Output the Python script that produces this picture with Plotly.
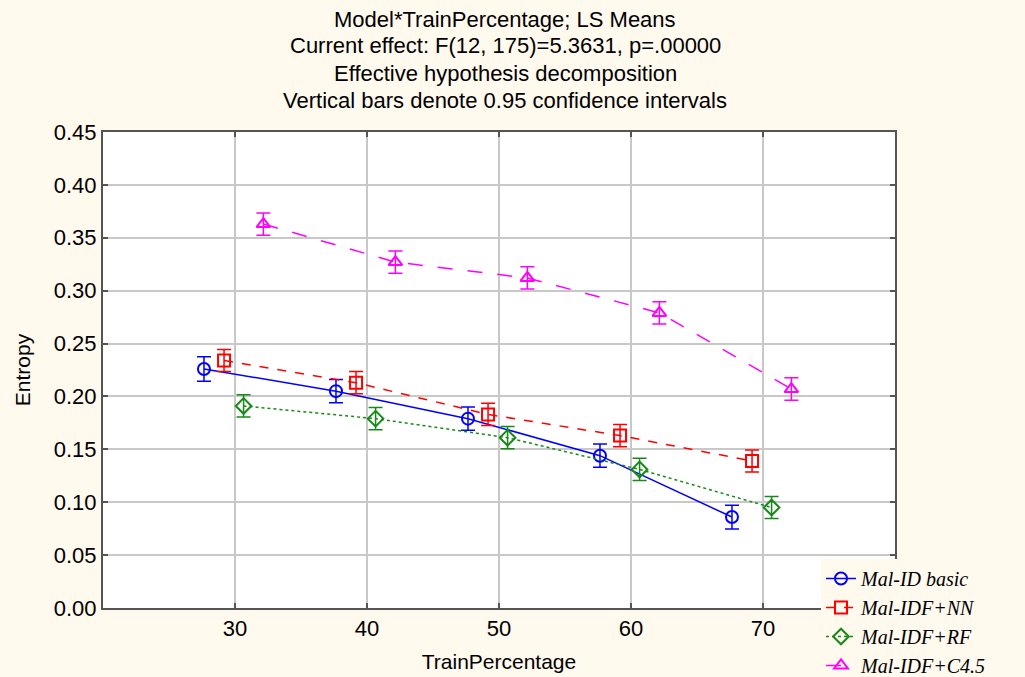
import numpy as np
import plotly.graph_objects as go

# ---- data ----
train_pct = [30, 40, 50, 60, 70]
series_names = ["Mal-ID basic", "Mal-IDF+NN", "Mal-IDF+RF", "Mal-IDF+C4.5"]
mal_id_basic = [0.226, 0.205, 0.179, 0.144, 0.086]
mal_idf_nn = [0.234, 0.213, 0.183, 0.163, 0.139]
mal_idf_rf = [0.191, 0.179, 0.161, 0.131, 0.095]
mal_idf_c45 = [0.363, 0.327, 0.312, 0.279, 0.207]
ci_basic = [0.0116, 0.0110, 0.0110, 0.0110, 0.0112]
ci_nn = [0.0104, 0.0105, 0.0105, 0.0105, 0.0104]
ci_rf = [0.0105, 0.0105, 0.0105, 0.0105, 0.0104]
ci_c45 = [0.0105, 0.0105, 0.0105, 0.0105, 0.0106]
y_ticks = [0.00, 0.05, 0.10, 0.15, 0.20, 0.25, 0.30, 0.35, 0.40, 0.45]
title_lines = [
    "Model*TrainPercentage; LS Means",
    "Current effect: F(12, 175)=5.3631, p=.00000",
    "Effective hypothesis decomposition",
    "Vertical bars denote 0.95 confidence intervals",
]

# ---- styles ----
styles = [
    dict(color="#0000FF", dash="solid", symbol="circle-open", dodge=-2.35),
    dict(color="#FF0000", dash="dash", symbol="square-open", dodge=-0.83),
    dict(color="#168A16", dash="dot", symbol="diamond-open", dodge=0.65),
    dict(color="#FF00FF", dash="longdash", symbol="triangle-up-open", dodge=2.15),
]
values = [mal_id_basic, mal_idf_nn, mal_idf_rf, mal_idf_c45]
cis = [ci_basic, ci_nn, ci_rf, ci_c45]

BG = "#FFF9EE"
SANS = "Liberation Sans, Arial, sans-serif"
fig = go.Figure()
for name, vals, ci, st in zip(series_names, values, cis, styles):
    x = np.array(train_pct, dtype=float) + st["dodge"]
    fig.add_trace(go.Scatter(
        x=x, y=vals, name=name, mode="lines+markers",
        line=dict(color=st["color"], width=1.5, dash=st["dash"]),
        marker=dict(symbol=st["symbol"], size=12, color=st["color"],
                    line=dict(width=2, color=st["color"])),
        error_y=dict(type="data", array=ci, visible=True, color=st["color"],
                     thickness=1.5, width=7),
    ))

annotations = []
for t, yp in zip(title_lines, [20, 46, 73, 100]):
    annotations.append(dict(
        text=t, xref="paper", yref="paper", x=(505 - 103) / 792, y=(608 - yp) / 476,
        xanchor="center", yanchor="middle", showarrow=False,
        font=dict(family=SANS, size=22, color="#000000"),
    ))

axis_common = dict(
    showline=True, linecolor="#555555", linewidth=2, mirror="ticks",
    ticks="inside", ticklen=5, tickwidth=2, tickcolor="#555555",
    showgrid=True, gridcolor="#C8C8C8", gridwidth=1.5, zeroline=False,
    tickfont=dict(family=SANS, size=22, color="#000000"),
)

fig.update_layout(
    width=1025, height=677,
    paper_bgcolor=BG, plot_bgcolor="#FFFFFF",
    margin=dict(l=103, r=130, t=132, b=69, autoexpand=False),
    showlegend=True,
    annotations=annotations,
    xaxis=dict(range=[20, 80], tickvals=train_pct, automargin=False, title=dict(
        text="TrainPercentage", standoff=14,
        font=dict(family=SANS, size=21, color="#000000")),
        **axis_common),
    yaxis=dict(range=[0, 0.45], tickvals=y_ticks, automargin=False,
               tickformat=".2f", title=dict(
        text="Entropy", standoff=17,
        font=dict(family=SANS, size=21, color="#000000")),
        **axis_common),
    legend=dict(
        x=(821 - 103) / 792, y=(608 - 559) / 476, xanchor="left", yanchor="top",
        bgcolor=BG, borderwidth=0, tracegroupgap=0, itemwidth=30,
        font=dict(family="Liberation Serif, Times New Roman, serif", size=20,
                  color="#000000", style="italic"),
    ),
)

fig.write_html("out.html", config={"displayModeBar": False},
               post_script="document.body.style.margin='0';")
